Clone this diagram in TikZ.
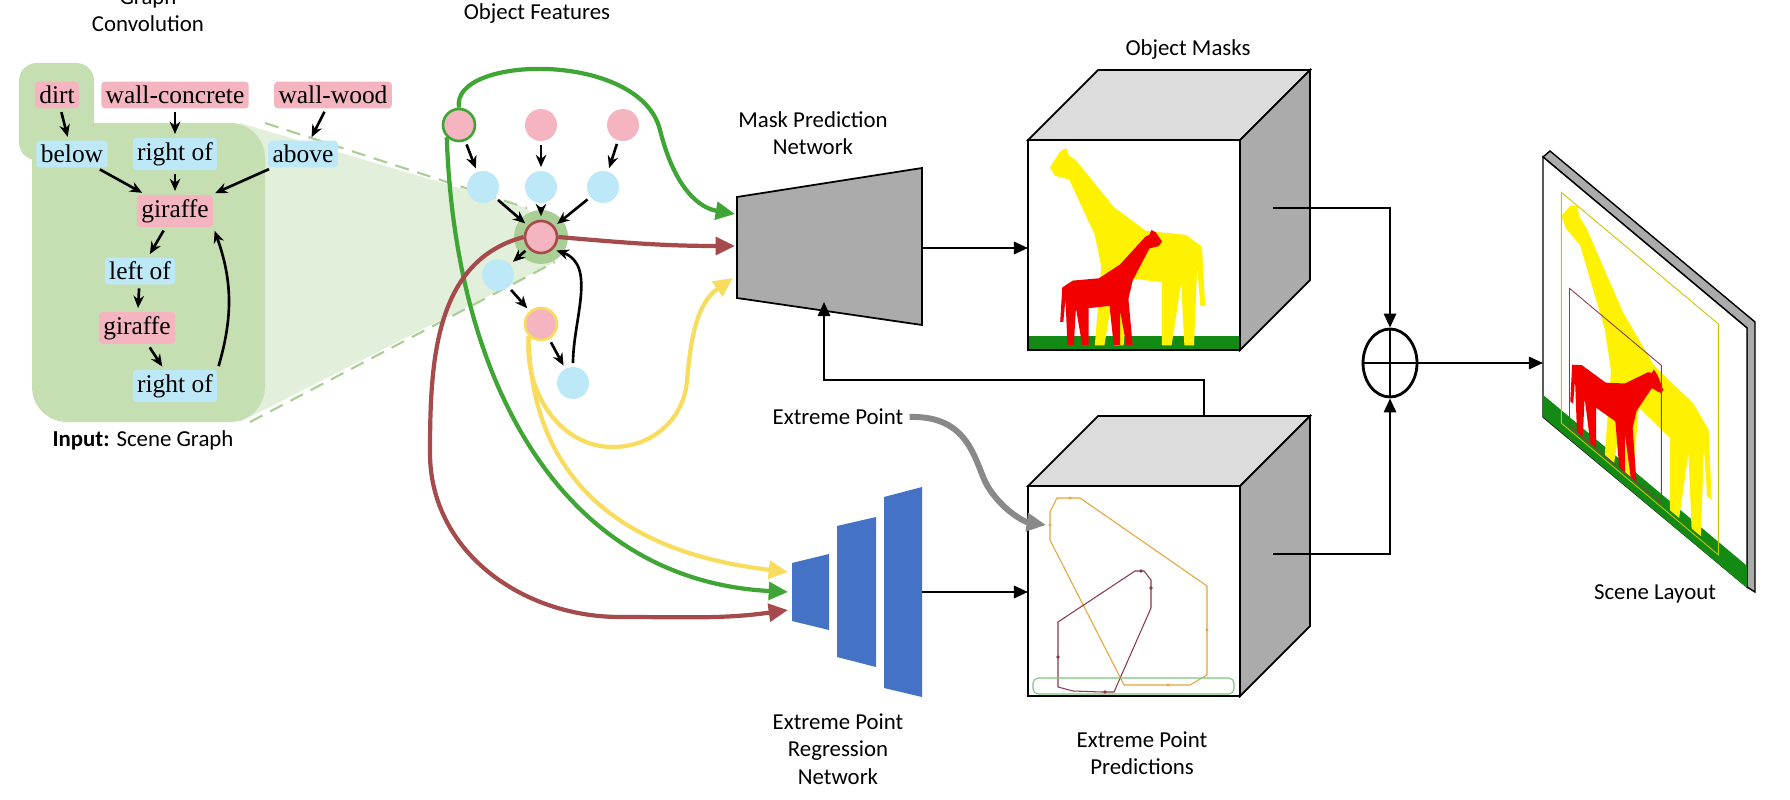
\documentclass[tikz,border=0pt]{standalone}
\usepackage{fontspec}
\setmainfont{Liberation Serif}
\newfontfamily\labelfont{Carlito}
\usepackage{tikz}
\usetikzlibrary{arrows.meta,shapes.geometric}
\definecolor{objectPink}{HTML}{F5B5C0}
\definecolor{relationBlue}{HTML}{BDE8F8}
\definecolor{graphGreen}{HTML}{C5DFB3}
\definecolor{zoomGreen}{HTML}{E2EFDA}
\definecolor{zoomDash}{HTML}{A9CF95}
\definecolor{flowGreen}{HTML}{3FA535}
\definecolor{flowRed}{HTML}{A54B4B}
\definecolor{flowYellow}{HTML}{F8DC5D}
\definecolor{netBlue}{HTML}{4472C4}
\definecolor{cubeTop}{HTML}{DCDCDC}
\definecolor{cubeSide}{HTML}{ABABAB}
\definecolor{maskYellow}{HTML}{FFF200}
\definecolor{maskRed}{HTML}{F20000}
\definecolor{grass}{HTML}{138A13}
\definecolor{boxOrange}{HTML}{E8A33A}
\definecolor{boxMaroon}{HTML}{8B3A4A}
\definecolor{boxGreen}{HTML}{7CC47C}
\newcommand\giraffeOutline{(0.00,0.10) -- (0.06,0.02) -- (0.10,0.00) -- (0.12,0.04)
  -- (0.16,0.06) -- (0.40,0.30) -- (0.60,0.42) -- (0.85,0.44) -- (0.95,0.50)
  -- (0.97,0.80) -- (0.94,0.80) -- (0.92,0.60) -- (0.90,1.00) -- (0.84,1.00)
  -- (0.82,0.68) -- (0.76,1.00) -- (0.70,1.00) -- (0.70,0.68) -- (0.50,0.66)
  -- (0.46,1.00) -- (0.40,1.00) -- (0.40,0.70) -- (0.34,1.00) -- (0.28,1.00)
  -- (0.32,0.60) -- (0.28,0.44) -- (0.12,0.16) -- (0.03,0.14) -- cycle}

\begin{document}
\begin{tikzpicture}[
  x=0.02cm, y=-0.02cm,
  every node/.style={font=\fontsize{14.5}{16}\selectfont},
  object/.style={fill=objectPink, rounded corners=2pt, inner sep=2.5pt},
  relation/.style={fill=relationBlue, rounded corners=2pt, inner sep=2.5pt},
  caption/.style={font=\labelfont\fontsize{13}{15.5}\selectfont, align=center},
  feature/.style={circle, minimum size=0.64cm, inner sep=0pt},
  graph edge/.style={-{Stealth[length=7pt,width=6pt]}, line width=1.5pt, shorten >=2pt, shorten <=2pt},
  flow/.style={line width=2.4pt, -{Triangle[length=11pt,width=10pt]}},
  black edge/.style={-{Triangle[length=8pt,width=7pt]}, line width=1.3pt},
]
\useasboundingbox[fill=white] (0,0) rectangle (1790,800);
\begin{scope}
\clip (0,0) rectangle (1790,800);

% zoom wedge and graph region
\fill[zoomGreen] (240,123) -- (527,208) -- (555,262) -- (240,422) -- cycle;
\draw[zoomDash, dashed, line width=1.2pt, dash pattern=on 8pt off 5pt] (265,123) -- (527,208);
\draw[zoomDash, dashed, line width=1.2pt, dash pattern=on 8pt off 5pt] (250,422) -- (555,262);
\fill[graphGreen, rounded corners=10pt] (19,63) rectangle (94,160);
\fill[graphGreen, rounded corners=20pt] (32,123) rectangle (265,422);

\node[caption] (titleConv) at (148,10) {Graph\\Convolution};
\node[caption] (titleInput) at (143,440) {\textbf{Input:} Scene Graph};

% scene graph
\node[object] (objDirt) at (57,95) {dirt};
\node[object] (objWallConcrete) at (175,95) {wall-concrete};
\node[object] (objWallWood) at (333,95) {wall-wood};
\node[relation] (relBelow) at (72,154) {below};
\node[relation] (relRightOf) at (175,154) {right of};
\node[relation] (relAbove) at (303,154) {above};
\node[object] (objGiraffe) at (175,211) {giraffe};
\node[relation] (relLeftOf) at (140,271) {left of};
\node[object] (objGiraffeTwo) at (137,328) {giraffe};
\node[relation] (relRightOfTwo) at (175,386) {right of};
\draw[graph edge] (objDirt) -- (relBelow);
\draw[graph edge] (objWallConcrete) -- (relRightOf);
\draw[graph edge] (objWallWood) -- (relAbove);
\draw[graph edge] (relBelow) -- (objGiraffe);
\draw[graph edge] (relRightOf) -- (objGiraffe);
\draw[graph edge] (relAbove) -- (objGiraffe);
\draw[graph edge] (objGiraffe) -- (relLeftOf);
\draw[graph edge] (relLeftOf) -- (objGiraffeTwo);
\draw[graph edge] (objGiraffeTwo) -- (relRightOfTwo);
\draw[graph edge] (relRightOfTwo.north east) to[bend right=18] (objGiraffe.south east);

% object features
\node[caption] (titleFeatures) at (537,14) {Object Features};
\fill[zoomDash] (541,237) circle (27);
\node[feature, fill=objectPink, draw=flowGreen, line width=1.5pt] (featA) at (459,125) {};
\node[feature, fill=objectPink] (featB) at (541,125) {};
\node[feature, fill=objectPink] (featC) at (623,125) {};
\node[feature, fill=relationBlue] (relA) at (483,187) {};
\node[feature, fill=relationBlue] (relB) at (541,187) {};
\node[feature, fill=relationBlue] (relC) at (603,187) {};
\node[feature, fill=objectPink, draw=flowRed, line width=1.5pt] (featCenter) at (541,237) {};
\node[feature, fill=relationBlue] (relD) at (498,275) {};
\node[feature, fill=objectPink, draw=flowYellow, line width=1.5pt] (featY) at (541,324) {};
\node[feature, fill=relationBlue] (relE) at (573,383) {};
\draw[graph edge] (featA) -- (relA);
\draw[graph edge] (featB) -- (relB);
\draw[graph edge] (featC) -- (relC);
\draw[graph edge] (relA) -- (featCenter);
\draw[graph edge] (relB) -- (featCenter);
\draw[graph edge] (relC) -- (featCenter);
\draw[graph edge] (featCenter) -- (relD);
\draw[graph edge] (relD) -- (featY);
\draw[graph edge] (featY) -- (relE);
\draw[graph edge] (relE.north) to[out=90,in=-20] (featCenter.south east);

% networks
\draw[fill=cubeSide, line width=1pt] (737,197) -- (922,168) -- (922,325) -- (737,298) -- cycle;
\node[caption] (titleMask) at (813,133) {Mask Prediction\\Network};
\coordinate (mpGreen) at (735,214);
\coordinate (mpRed) at (735,246);
\coordinate (mpYellow) at (733,278);
\coordinate (mpBottom) at (824,302);
\fill[netBlue] (792,563) -- (829,554) -- (829,630) -- (792,621) -- cycle;
\fill[netBlue] (837,526) -- (876,517) -- (876,667) -- (837,657) -- cycle;
\fill[netBlue] (884,497) -- (922,487) -- (922,697) -- (884,688) -- cycle;
\node[caption] (titleRegress) at (838,749) {Extreme Point\\Regression\\Network};
\coordinate (rgYellow) at (788,572);
\coordinate (rgGreen) at (788,592);
\coordinate (rgRed) at (788,610);

% coloured flows
\draw[flow, flowGreen] (featA.north) .. controls (450,55) and (640,50) .. (660,130)
  .. controls (675,190) and (700,208) .. (mpGreen);
\draw[flow, flowGreen] (featA.south west) .. controls (455,380) and (560,580) .. (rgGreen);
\draw[flow, flowRed] (featCenter.east) to[out=-5,in=180] (mpRed);
\draw[flow, flowRed] (featCenter.west) to[out=195,in=90] (430,453) to[out=-90,in=180]
  (620,617) to[out=0,in=188] (rgRed);
\draw[flow, flowYellow] (featY.south west) to[out=-95,in=180] (613,447) to[out=0,in=-95]
  (687,381) to[out=85,in=215] (mpYellow);
\draw[flow, flowYellow] (featY.south west) .. controls (530,460) and (600,550) .. (rgYellow);

% cubes
\foreach \cy in {0,346}{
  \draw[fill=cubeTop, line width=1pt] (1028,140+\cy) -- (1098,70+\cy) -- (1310,70+\cy) -- (1240,140+\cy) -- cycle;
  \draw[fill=cubeSide, line width=1pt] (1240,140+\cy) -- (1310,70+\cy) -- (1310,280+\cy) -- (1240,350+\cy) -- cycle;
  \draw[fill=white, line width=1pt] (1028,140+\cy) rectangle (1240,350+\cy);
}
\node[caption] (titleMasks) at (1188,50) {Object Masks};
\node[caption] (titlePred) at (1142,753) {Extreme Point\\Predictions};

% mask contents
\fill[grass] (1029,336) rectangle (1239,349);
\begin{scope}[shift={(1050,148)}, x=3.2cm, y=-3.95cm]
  \fill[maskYellow] \giraffeOutline;
\end{scope}
\begin{scope}[shift={(1162,230)}, x=-2.1cm, y=-2.3cm]
  \fill[maskRed] \giraffeOutline;
\end{scope}

% extreme point contents
\draw[boxOrange, line width=0.6pt] (1057,498) -- (1080,498) -- (1207,586) -- (1207,675)
  -- (1190,685) -- (1124,685) -- (1050,540) -- (1050,512) -- cycle;
\draw[boxMaroon, line width=0.6pt] (1135,571) -- (1144,571) -- (1151,580) -- (1151,608)
  -- (1114,692) -- (1102,692) -- (1073,691) -- (1058,687) -- (1058,622) -- cycle;
\draw[boxGreen, line width=0.6pt, rounded corners=3pt] (1033,678) rectangle (1234,694);
\foreach \px/\py in {1070/498,1050/525,1207/630,1168/685}{\fill[boxOrange] (\px,\py) circle (1.6);}
\foreach \px/\py in {1141/571,1151/588,1058/657,1105/692}{\fill[boxMaroon] (\px,\py) circle (1.8);}

\node[caption] (extremePoint) at (838,417) {Extreme Point};
\draw[-{Triangle[length=11pt,width=10pt]}, line width=3.4pt, cubeSide!80!black]
  (extremePoint.east) .. controls (975,415) and (975,470) .. (990,490) .. controls (1005,512) and (1025,522) .. (1046,525);

% connectors
\draw[black edge] (922,248) -- (1028,248);
\draw[black edge] (922,592) -- (1028,592);
\draw[black edge] (1204,416) -- (1204,380) -- (824,380) -- (mpBottom);

\node[ellipse, draw, line width=1.6pt, minimum width=1.08cm, minimum height=1.36cm,
  path picture={\draw[line width=1.2pt] (path picture bounding box.north) -- (path picture bounding box.south)
  (path picture bounding box.west) -- (path picture bounding box.east);}] (sum) at (1390,363) {};
\draw[black edge] (1273,208) -- (1390,208) -- (sum.north);
\draw[black edge] (1273,554) -- (1390,554) -- (sum.south);
\coordinate (panelIn) at (1543,363);
\draw[black edge] (sum.east) -- (panelIn);

% scene layout panel
\draw[fill=cubeSide, line width=0.8pt] (1543,157) -- (1550,151) -- (1755,322) -- (1755,592) -- (1747,587) -- (1747,328) -- cycle;
\draw[fill=white, line width=0.8pt] (1543,157) -- (1747,328) -- (1747,587) -- (1543,417) -- cycle;
\coordinate (panel) at (1543,157);
\begin{scope}[shift={(panel)}, x={(4.08cm,-3.42cm)}, y={(0cm,-5.2cm)}]
  \fill[grass] (0,0.915) -- (1,0.915) -- (1,1) -- (0,1) -- cycle;
  \begin{scope}[shift={(0.09,0.08)}, x={(3.10cm,-2.60cm)}, y={(0cm,-4.52cm)}]
    \fill[maskYellow] \giraffeOutline;
  \end{scope}
  \begin{scope}[shift={(0.59,0.46)}, x={(-1.92cm,1.61cm)}, y={(0cm,-2.55cm)}]
    \fill[maskRed] \giraffeOutline;
  \end{scope}
  \draw[maskYellow!80!black, line width=0.5pt] (0.09,0.077) -- (0.86,0.077) -- (0.86,0.965) -- (0.09,0.965) -- cycle;
  \draw[boxMaroon, line width=0.5pt] (0.13,0.42) -- (0.58,0.42) -- (0.58,0.95) -- (0.13,0.95) -- cycle;
\end{scope}
\node[caption] (titleLayout) at (1655,594) {Scene Layout};
\end{scope}
\end{tikzpicture}
\end{document}
